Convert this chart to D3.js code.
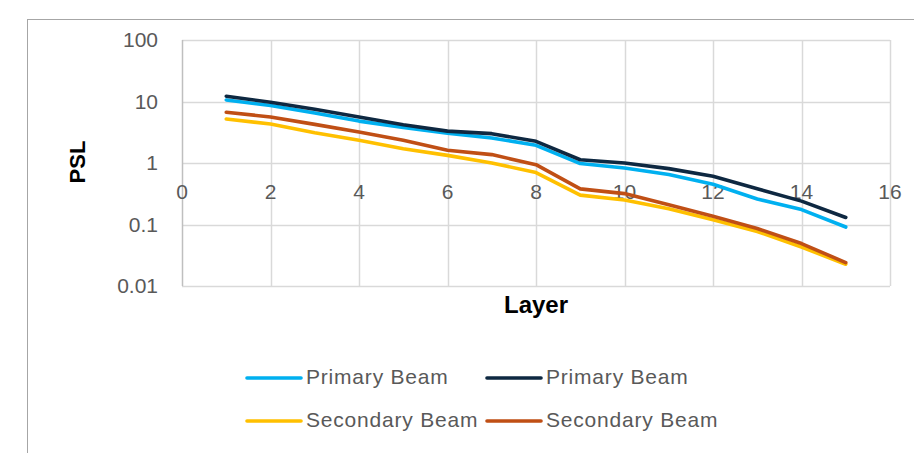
<!DOCTYPE html>
<html>
<head>
<meta charset="utf-8">
<script src="https://cdn.jsdelivr.net/npm/d3@7"></script>
<style>
  html, body { margin: 0; padding: 0; background: #ffffff; }
  svg { display: block; }
</style>
</head>
<body>
<svg id="chart" width="914" height="453"></svg>
<script>
// ---- data ----
const layers = [1, 2, 3, 4, 5, 6, 7, 8, 9, 10, 11, 12, 13, 14, 15];
const primaryBeamA   = [10.6, 8.6, 6.5, 4.8, 3.8, 3.05, 2.55, 1.94, 0.98, 0.83, 0.65, 0.45, 0.26, 0.175, 0.091];
const primaryBeamB   = [12.2, 9.7, 7.5, 5.6, 4.2, 3.3, 3.0, 2.25, 1.13, 1.0, 0.81, 0.61, 0.38, 0.24, 0.13];
const secondaryBeamA = [5.2, 4.3, 3.1, 2.34, 1.71, 1.33, 1.0, 0.70, 0.30, 0.25, 0.18, 0.12, 0.077, 0.043, 0.0226];
const secondaryBeamB = [6.7, 5.6, 4.25, 3.2, 2.34, 1.61, 1.37, 0.94, 0.38, 0.318, 0.21, 0.136, 0.086, 0.049, 0.024];
const seriesNames  = ["Primary Beam", "Primary Beam", "Secondary Beam", "Secondary Beam"];
const seriesColors = ["#00B0F0", "#0E2841", "#FFC000", "#C04F15"];
const xTicks = [0, 2, 4, 6, 8, 10, 12, 14, 16];
const yTicks = [0.01, 0.1, 1, 10, 100];
const yTickLabels = ["0.01", "0.1", "1", "10", "100"];
const xTitle = "Layer";
const yTitle = "PSL";

const allSeries = [primaryBeamA, primaryBeamB, secondaryBeamA, secondaryBeamB];

// ---- drawing ----
const svg = d3.select("#chart");
const x = d3.scaleLinear().domain([0, 16]).range([182, 890]);
const y = d3.scaleLog().domain([0.01, 100]).range([286, 40]);

// chart border
svg.append("rect")
  .attr("x", 27.5).attr("y", 19.5)
  .attr("width", 1000).attr("height", 1000)
  .attr("fill", "none").attr("stroke", "#a6a6a6").attr("stroke-width", 1);

const grid = svg.append("g");
grid.selectAll("line.h").data(yTicks).join("line")
  .attr("x1", x(0)).attr("x2", x(16))
  .attr("y1", d => Math.round(y(d)) + 0.5).attr("y2", d => Math.round(y(d)) + 0.5)
  .attr("stroke", "#d9d9d9").attr("stroke-width", 1.5);
grid.selectAll("line.v").data(xTicks).join("line")
  .attr("y1", y(100)).attr("y2", y(0.01))
  .attr("x1", d => Math.round(x(d)) + 0.5).attr("x2", d => Math.round(x(d)) + 0.5)
  .attr("stroke", d => d === 0 ? "#bfbfbf" : "#d9d9d9").attr("stroke-width", 1.5);

// y tick labels
svg.append("g").selectAll("text").data(yTicks).join("text")
  .attr("x", 158).attr("y", d => y(d) + 7)
  .attr("text-anchor", "end")
  .attr("font-family", "Liberation Sans, Arial, sans-serif")
  .attr("font-size", 21).attr("fill", "#595959")
  .text((d, i) => yTickLabels[i]);

// x tick labels (axis crosses at 1)
svg.append("g").selectAll("text").data(xTicks).join("text")
  .attr("x", d => x(d)).attr("y", y(1) + 36)
  .attr("text-anchor", "middle")
  .attr("font-family", "Liberation Sans, Arial, sans-serif")
  .attr("font-size", 21).attr("fill", "#595959")
  .text(d => d);

// axis titles
svg.append("text")
  .attr("transform", "translate(85,162) rotate(-90)")
  .attr("text-anchor", "middle")
  .attr("font-family", "Liberation Sans, Arial, sans-serif")
  .attr("font-weight", "bold").attr("font-size", 22).attr("fill", "#000")
  .text(yTitle);
svg.append("text")
  .attr("x", (x(0) + x(16)) / 2).attr("y", 313)
  .attr("text-anchor", "middle")
  .attr("font-family", "Liberation Sans, Arial, sans-serif")
  .attr("font-weight", "bold").attr("font-size", 24).attr("fill", "#000")
  .text(xTitle);

// lines
const line = d3.line().x((d, i) => x(layers[i])).y(d => y(d));
const drawOrder = [0, 1, 2, 3];
svg.append("g").selectAll("path").data(drawOrder).join("path")
  .attr("d", i => line(allSeries[i]))
  .attr("fill", "none")
  .attr("stroke", i => seriesColors[i])
  .attr("stroke-width", 3.6)
  .attr("stroke-linejoin", "round")
  .attr("stroke-linecap", "round");

// legend
const legendPos = [
  { lx: 247, ly: 378 }, { lx: 487, ly: 378 },
  { lx: 247, ly: 421 }, { lx: 487, ly: 421 }
];
const lg = svg.append("g").selectAll("g").data(seriesNames).join("g")
  .attr("transform", (d, i) => `translate(${legendPos[i].lx},${legendPos[i].ly})`);
lg.append("line")
  .attr("x1", 0).attr("x2", 54).attr("y1", 0).attr("y2", 0)
  .attr("stroke", (d, i) => seriesColors[i])
  .attr("stroke-width", 3.6).attr("stroke-linecap", "round");
lg.append("text")
  .attr("x", 59).attr("y", 6)
  .attr("font-family", "Liberation Sans, Arial, sans-serif")
  .attr("font-size", 21).attr("fill", "#595959")
  .attr("letter-spacing", 0.8)
  .text(d => d);
</script>
</body>
</html>
